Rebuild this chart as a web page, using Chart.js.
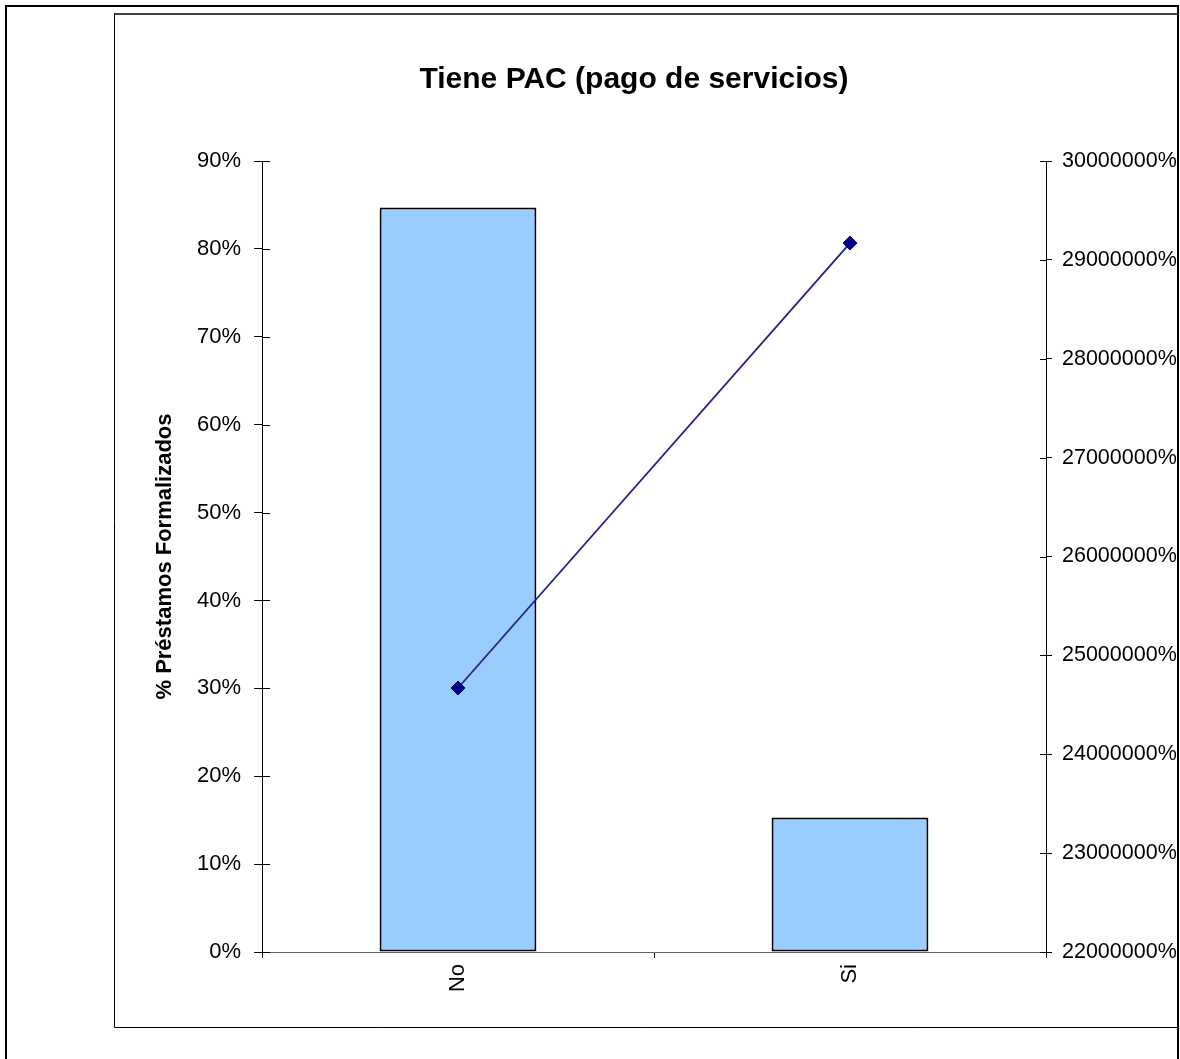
<!DOCTYPE html>
<html>
<head>
<meta charset="utf-8">
<title>Tiene PAC (pago de servicios)</title>
<script src="https://cdn.jsdelivr.net/npm/chart.js@4/dist/chart.umd.min.js"></script>
<style>
  html, body { margin: 0; padding: 0; background: #fff; }
  #wrap { position: relative; width: 1180px; height: 1059px; }
  canvas { display: block; }
</style>
</head>
<body>
<div id="wrap"><canvas id="chart" width="1180" height="1059"></canvas></div>
<script>
// Categories and series
const categories = ['No', 'Si'];
const pctFormalizados = [84.7, 15.3];           // left axis, %
const secondarySeries = [24670000, 29170000];   // right axis, %

// Axis ranges / tick steps
const leftAxis = { min: 0, max: 90, step: 10 };
const rightAxis = { min: 22000000, max: 30000000, step: 1000000 };

const FONT = "'Liberation Sans', Arial, sans-serif";

// Frames around the figure and the chart box, plus inward halves of the tick marks
const framePlugin = {
  id: 'frames',
  beforeDraw(chart) {
    const ctx = chart.ctx;
    ctx.save();
    ctx.fillStyle = '#fff';
    ctx.fillRect(0, 0, chart.width, chart.height);
    ctx.restore();
  },
  afterDraw(chart) {
    const ctx = chart.ctx;
    ctx.save();
    // outer frame
    ctx.strokeStyle = '#000';
    ctx.lineWidth = 2;
    ctx.strokeRect(6, 6, 1172, 1200);
    // chart box
    ctx.strokeStyle = '#404040';
    ctx.lineWidth = 2;
    ctx.beginPath();
    ctx.moveTo(114, 14); ctx.lineTo(1178, 14);
    ctx.stroke();
    ctx.strokeStyle = '#000';
    ctx.lineWidth = 1;
    ctx.beginPath();
    ctx.moveTo(114.5, 13); ctx.lineTo(114.5, 1027.5); ctx.lineTo(1178, 1027.5);
    ctx.stroke();

    // inward tick halves
    const ya = chart.scales.y, yb = chart.scales.y1;
    ctx.strokeStyle = '#000';
    ctx.lineWidth = 1;
    ctx.beginPath();
    ya.ticks.forEach(t => {
      const p = Math.round(ya.getPixelForValue(t.value)) + 0.5;
      ctx.moveTo(ya.right, p); ctx.lineTo(ya.right + 8, p);
    });
    yb.ticks.forEach(t => {
      const p = Math.round(yb.getPixelForValue(t.value)) + 0.5;
      ctx.moveTo(yb.left - 6, p); ctx.lineTo(yb.left, p);
    });
    ctx.stroke();
    ctx.restore();
  }
};

new Chart(document.getElementById('chart'), {
  data: {
    labels: categories,
    datasets: [
      {
        type: 'line',
        data: secondarySeries,
        yAxisID: 'y1',
        order: 0,
        borderColor: '#22228a',
        borderWidth: 1.8,
        pointStyle: 'rectRot',
        pointRadius: 7,
        pointBackgroundColor: '#000080',
        pointBorderColor: '#000080',
        pointBorderWidth: 1,
        tension: 0
      },
      {
        type: 'bar',
        data: pctFormalizados,
        yAxisID: 'y',
        order: 1,
        backgroundColor: '#99CCFF',
        borderColor: '#000',
        borderWidth: 2,
        borderSkipped: false,
        categoryPercentage: 1,
        barPercentage: 0.4
      }
    ]
  },
  options: {
    responsive: false,
    animation: false,
    layout: { padding: { left: 88, top: 0, right: 0, bottom: 0 } },
    plugins: {
      legend: { display: false },
      tooltip: { enabled: false },
      title: {
        display: true,
        text: 'Tiene PAC (pago de servicios)',
        color: '#000',
        font: { family: FONT, size: 30, weight: 'bold' },
        padding: { top: 62, bottom: 63 }
      }
    },
    scales: {
      x: {
        type: 'category',
        offset: true,
        grid: { offset: true, drawOnChartArea: false, drawTicks: true, tickLength: 6, color: '#000' },
        border: { color: '#666', width: 1 },
        ticks: {
          minRotation: 90, maxRotation: 90, padding: 6,
          color: '#000', font: { family: FONT, size: 22 }
        },
        afterFit(s) { s.height = 107; }
      },
      y: {
        position: 'left',
        min: leftAxis.min, max: leftAxis.max,
        grid: { drawOnChartArea: false, tickLength: 8, color: '#000' },
        border: { color: '#000', width: 1 },
        ticks: {
          stepSize: leftAxis.step, padding: 13, color: '#000',
          font: { family: FONT, size: 22 },
          callback: v => v + '%'
        },
        title: {
          display: true,
          text: '% Préstamos Formalizados',
          color: '#000',
          font: { family: FONT, size: 22, weight: 'bold' },
          padding: { top: 64, bottom: 0 }
        },
        afterFit(s) { s.width = 174; }
      },
      y1: {
        position: 'right',
        min: rightAxis.min, max: rightAxis.max,
        grid: { drawOnChartArea: false, tickLength: 6, color: '#000' },
        border: { color: '#000', width: 1 },
        ticks: {
          stepSize: rightAxis.step, padding: 10, color: '#000',
          font: { family: FONT, size: 21.5 },
          callback: v => v + '%'
        },
        afterFit(s) { s.width = 134; }
      }
    }
  },
  plugins: [framePlugin]
});
</script>
</body>
</html>
